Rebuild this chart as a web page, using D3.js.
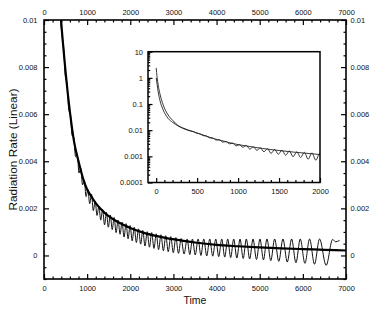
<!DOCTYPE html>
<html>
<head>
<meta charset="utf-8">
<script src="https://cdn.jsdelivr.net/npm/d3@7"></script>
<style>
  body { margin: 0; background: #fff; }
  text { font-family: "Liberation Sans", Arial, sans-serif; fill: #111; }
</style>
</head>
<body>
<div id="graf"></div>
<script>
// smooth (thick) curve, time vs rate
const smoothT = [0, 5, 12, 24, 45, 85, 146, 200, 268, 320, 380, 450, 500, 550, 600, 650, 700, 800, 900, 1000,
  1100, 1200, 1300, 1400, 1500, 1700, 2000, 2300, 2700, 3200, 3500, 4000, 4500, 5000, 5500, 6000, 6500, 7000];
const smoothV = [2.4, 1.6, 1.0, 0.54, 0.25, 0.093, 0.038, 0.024, 0.015, 0.0124, 0.0104, 0.0088, 0.0078, 0.0069,
  0.0061, 0.0054, 0.0048, 0.0040, 0.0033, 0.0028, 0.0025, 0.00222, 0.0020, 0.00182, 0.00167, 0.00143, 0.00117,
  0.00097, 0.00079, 0.00063, 0.00055, 0.00045, 0.00039, 0.00034, 0.00030, 0.00027, 0.00024, 0.00021];

// oscillating (thin) curve, read peak / trough by peak / trough
const oscT = [0, 12, 24, 45, 85, 146, 200, 268, 380, 420,
  457, 495, 534, 573, 612, 651, 691, 731, 771, 811, 852, 893, 934, 975, 1017, 1059, 1101, 1143, 1186, 1229,
  1272, 1315, 1359, 1403, 1447, 1491, 1536, 1581, 1626, 1671, 1717, 1763, 1809, 1855, 1902, 1949, 1996, 2044,
  2092, 2141, 2190, 2240, 2290, 2341, 2392, 2444, 2496, 2549, 2602, 2656, 2711, 2767, 2823, 2880, 2938, 2997,
  3056, 3117, 3178, 3247, 3317, 3379, 3441, 3506, 3572, 3637, 3703, 3772, 3842, 3911, 3981, 4050, 4120, 4189,
  4258, 4327, 4397, 4470, 4544, 4617, 4690, 4767, 4845, 4925, 5006, 5087, 5168, 5257, 5346, 5442, 5539, 5639,
  5739, 5840, 5940, 6048, 6156, 6270, 6387, 6540, 6690, 6760, 6850];
const oscV = [1.0, 0.55, 0.3, 0.14, 0.06, 0.028, 0.020, 0.0145, 0.0101, 0.0093,
  0.0088, 0.0076, 0.0073, 0.0062, 0.0060, 0.0051, 0.0050, 0.0042, 0.0043, 0.0035, 0.0037, 0.0030, 0.0032, 0.0025,
  0.0028, 0.0022, 0.0026, 0.0019, 0.0023, 0.0017, 0.0021, 0.0015, 0.00195, 0.0013, 0.00183, 0.0012, 0.00172,
  0.0011, 0.00161, 0.00097, 0.0015, 0.0009, 0.00142, 0.00078, 0.00135, 0.00071, 0.00127, 0.00062, 0.0012, 0.00055,
  0.00113, 0.00048, 0.00106, 0.0004, 0.00101, 0.00035, 0.00097, 0.0003, 0.00092, 0.00025, 0.00088, 0.0002,
  0.00084, 0.00016, 0.0008, 0.00012, 0.00076, 0.00009, 0.00072, 0.00006, 0.0007, 0.00004, 0.0007, 0.00002,
  0.0007, 0.0, 0.0007, -0.00002, 0.0007, -0.00003, 0.0007, -0.00005, 0.0007, -0.00007, 0.0007, -0.00009,
  0.0007, -0.00011, 0.0007, -0.00013, 0.0007, -0.00015, 0.0007, -0.00017, 0.0007, -0.00019, 0.0007, -0.00022,
  0.0007, -0.00025, 0.0007, -0.00028, 0.0007, -0.00031, 0.0007, -0.00034, 0.0007, -0.00037, 0.0007, -0.00042,
  0.00068, 0.00058, 0.00064];

const xTicks = [0, 1000, 2000, 3000, 4000, 5000, 6000, 7000];
const yTicks = [0, 0.002, 0.004, 0.006, 0.008, 0.01];
const insetXTicks = [0, 500, 1000, 1500, 2000];
const insetYTicks = [0.0001, 0.001, 0.01, 0.1, 1, 10];

const width = 374, height = 319;
const smooth = smoothT.map((t, i) => ({t: t, v: smoothV[i]}));
const osc = oscT.map((t, i) => ({t: t, v: oscV[i]}));

const svg = d3.select("#graf").append("svg")
  .attr("width", width).attr("height", height);

const x = d3.scaleLinear([0, 7000], [44, 346]);
const y = d3.scaleLinear([-0.001, 0.01], [279, 20]);

const fmt = d3.format("~g");
const lbl = 7.5;

svg.append("clipPath").attr("id", "clipMain").append("rect")
  .attr("x", x(0)).attr("y", y(0.01)).attr("width", x(7000) - x(0)).attr("height", y(-0.001) - y(0.01));

const plot = svg.append("g").attr("clip-path", "url(#clipMain)");
const lineMain = d3.line().x(d => x(d.t)).y(d => y(d.v)).curve(d3.curveMonotoneX);

plot.append("path").datum(osc.filter(d => d.t >= 268))
  .attr("fill", "none").attr("stroke", "#111").attr("stroke-width", 1)
  .attr("d", lineMain);
plot.append("path").datum(smooth.filter(d => d.t >= 268))
  .attr("fill", "none").attr("stroke", "#000").attr("stroke-width", 2.2)
  .attr("d", lineMain);

// main axes, ticks inward
function styleAxis(g) {
  g.select(".domain").remove();
  g.selectAll("line").attr("stroke", "#000").attr("stroke-width", 1.2);
  g.selectAll("text").attr("font-size", lbl).attr("font-family", "Liberation Sans, Arial, sans-serif");
}
const minorX = d3.range(0, 7001, 200).filter(v => v % 1000 !== 0);
const minorY = d3.range(-0.001, 0.01001, 0.0005).filter(v => Math.abs(v / 0.002 - Math.round(v / 0.002)) > 0.01);

svg.append("g").attr("transform", `translate(0,${y(-0.001)})`)
  .call(d3.axisBottom(x).tickValues(xTicks).tickFormat(fmt).tickSize(-5).tickPadding(6.5)).call(styleAxis);
svg.append("g").attr("transform", `translate(0,${y(-0.001)})`)
  .call(d3.axisBottom(x).tickValues(minorX).tickFormat("").tickSize(-2.5)).call(styleAxis);
svg.append("g").attr("transform", `translate(0,${y(0.01)})`)
  .call(d3.axisTop(x).tickValues(xTicks).tickFormat(fmt).tickSize(-5).tickPadding(5.5)).call(styleAxis);
svg.append("g").attr("transform", `translate(0,${y(0.01)})`)
  .call(d3.axisTop(x).tickValues(minorX).tickFormat("").tickSize(-2.5)).call(styleAxis);
svg.append("g").attr("transform", `translate(${x(0)},0)`)
  .call(d3.axisLeft(y).tickValues(yTicks).tickFormat(fmt).tickSize(-5).tickPadding(6.5)).call(styleAxis);
svg.append("g").attr("transform", `translate(${x(0)},0)`)
  .call(d3.axisLeft(y).tickValues(minorY).tickFormat("").tickSize(-2.5)).call(styleAxis);
svg.append("g").attr("transform", `translate(${x(7000)},0)`)
  .call(d3.axisRight(y).tickValues(yTicks).tickFormat(fmt).tickSize(-5).tickPadding(4.5)).call(styleAxis);
svg.append("g").attr("transform", `translate(${x(7000)},0)`)
  .call(d3.axisRight(y).tickValues(minorY).tickFormat("").tickSize(-2.5)).call(styleAxis);

svg.append("rect")
  .attr("x", x(0)).attr("y", y(0.01)).attr("width", x(7000) - x(0)).attr("height", y(-0.001) - y(0.01))
  .attr("fill", "none").attr("stroke", "#000").attr("stroke-width", 1.6);

svg.append("text").attr("x", (x(0) + x(7000)) / 2).attr("y", 304)
  .attr("text-anchor", "middle").attr("font-size", 10.5).text("Time");
svg.append("text").attr("transform", `translate(17,${(y(0.01) + y(-0.001)) / 2}) rotate(-90)`)
  .attr("text-anchor", "middle").attr("font-size", 11.8).text("Radiation Rate (Linear)");

// inset, log scale
const ix = d3.scaleLinear([-100, 2000], [148, 320]);
const iy = d3.scaleLog([0.0001, 10], [182.5, 51.7]);

svg.append("rect").attr("x", ix(-100)).attr("y", iy(10)).attr("width", ix(2000) - ix(-100))
  .attr("height", iy(0.0001) - iy(10)).attr("fill", "#fff");

svg.append("clipPath").attr("id", "clipInset").append("rect")
  .attr("x", ix(-100)).attr("y", iy(10)).attr("width", ix(2000) - ix(-100)).attr("height", iy(0.0001) - iy(10));

const inset = svg.append("g").attr("clip-path", "url(#clipInset)");
const lineInset = d3.line().x(d => ix(d.t)).y(d => iy(d.v)).curve(d3.curveMonotoneX);
inset.append("path").datum(osc.filter(d => d.t <= 2100))
  .attr("fill", "none").attr("stroke", "#222").attr("stroke-width", 0.9).attr("d", lineInset);
inset.append("path").datum(smooth.filter(d => d.t <= 2300))
  .attr("fill", "none").attr("stroke", "#222").attr("stroke-width", 0.9).attr("d", lineInset);

const minorIX = d3.range(100, 2000, 100).filter(v => v % 500 !== 0);
const minorIY = [];
[0.0001, 0.001, 0.01, 0.1, 1].forEach(d => { for (let k = 2; k <= 9; k++) minorIY.push(d * k); });

svg.append("g").attr("transform", `translate(0,${iy(0.0001)})`)
  .call(d3.axisBottom(ix).tickValues(insetXTicks).tickFormat(fmt).tickSize(-4.5).tickPadding(6.5)).call(styleAxis);
svg.append("g").attr("transform", `translate(0,${iy(0.0001)})`)
  .call(d3.axisBottom(ix).tickValues(minorIX).tickFormat("").tickSize(-2.5)).call(styleAxis);
svg.append("g").attr("transform", `translate(${ix(-100)},0)`)
  .call(d3.axisLeft(iy).tickValues(insetYTicks).tickFormat(fmt).tickSize(-4.5).tickPadding(5)).call(styleAxis);
svg.append("g").attr("transform", `translate(${ix(-100)},0)`)
  .call(d3.axisLeft(iy).tickValues(minorIY).tickFormat("").tickSize(-2.2)).call(styleAxis);

svg.append("rect").attr("x", ix(-100)).attr("y", iy(10)).attr("width", ix(2000) - ix(-100))
  .attr("height", iy(0.0001) - iy(10)).attr("fill", "none").attr("stroke", "#000").attr("stroke-width", 1.5);
</script>
</body>
</html>
